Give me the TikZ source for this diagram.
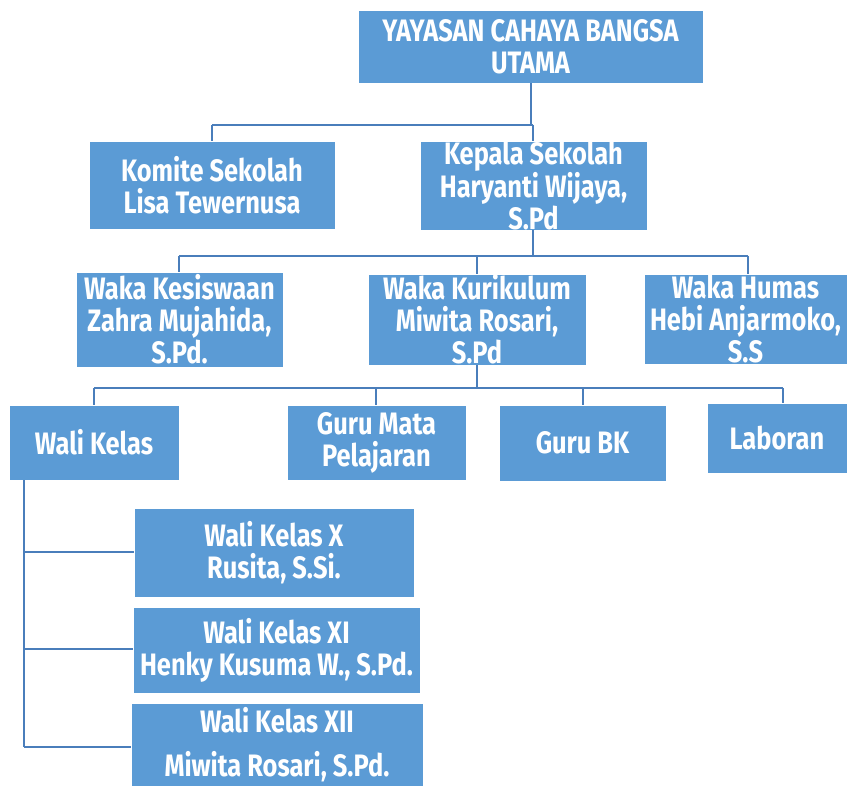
\documentclass[tikz,border=0pt]{standalone}
\usepackage{fontspec}
\setmainfont[FakeStretch=0.82]{Fira Sans}
\definecolor{boxfill}{HTML}{5B9BD5}
\definecolor{linecol}{HTML}{4A7EBB}
\begin{document}
\begin{tikzpicture}[x=1pt,y=-1pt,
  orgbox/.style={fill=boxfill,draw=white,line width=0.6pt,inner sep=0pt,text=white,align=center,
    font=\fontsize{31}{32}\selectfont\bfseries},
  conn/.style={draw=linecol,line width=2.6pt}]
\useasboundingbox (0,0) rectangle (847,786);
\newcommand{\obox}[6]{\node[orgbox,minimum width=#3-#2,minimum height=#5-#4] (#1) at ({(#2+#3)/2},{(#4+#5)/2}) {#6};}
\obox{yay}{358}{703}{10}{83}{YAYASAN CAHAYA BANGSA\\UTAMA}
\obox{kom}{89}{335}{141}{229}{Komite Sekolah\\Lisa Tewernusa}
\obox{kep}{420}{647}{141}{230}{Kepala Sekolah\\Haryanti Wijaya,\\S.Pd}
\obox{kes}{76}{283}{272}{367}{Waka Kesiswaan\\Zahra Mujahida,\\S.Pd.}
\obox{kur}{368}{586}{274}{365}{Waka Kurikulum\\Miwita Rosari,\\S.Pd}
\obox{hum}{644}{847}{274}{364}{Waka Humas\\Hebi Anjarmoko,\\S.S}
\obox{wal}{9}{179}{405}{480}{Wali Kelas}
\obox{gmp}{287}{466}{405}{480}{Guru Mata\\Pelajaran}
\obox{gbk}{499}{666}{405}{481}{Guru BK}
\obox{lab}{707}{847}{403}{473}{Laboran}
\obox{wx}{134}{414}{508}{597}{Wali Kelas X\\Rusita, S.Si.}
\obox{wxi}{133}{420}{607}{693}{Wali Kelas XI\\Henky Kusuma W., S.Pd.}
\obox{wxii}{131}{423}{703}{786}{Wali Kelas XII\\[12pt]Miwita Rosari, S.Pd.}
% connectors
\coordinate (b1) at (531,125);
\draw[conn] (yay.south -| b1) -- (b1);
\draw[conn] (212,125) -- (533,125);
\draw[conn] (212,125) -- (kom.north -| 212,0);
\draw[conn] (533,125) -- (kep.north -| 533,0);
\coordinate (b2) at (533,256);
\draw[conn] (kep.south -| b2) -- (b2);
\draw[conn] (179,256) -- (748,256);
\draw[conn] (179,256) -- (kes.north -| 179,0);
\draw[conn] (477,256) -- (kur.north -| 477,0);
\draw[conn] (748,256) -- (hum.north -| 748,0);
\coordinate (b3) at (477,388);
\draw[conn] (kur.south -| b3) -- (b3);
\draw[conn] (94,388) -- (783,388);
\draw[conn] (94,388) -- (wal.north -| 94,0);
\draw[conn] (376,388) -- (gmp.north -| 376,0);
\draw[conn] (583,388) -- (gbk.north -| 583,0);
\draw[conn] (783,388) -- (lab.north -| 783,0);
\coordinate (v) at (24,747);
\draw[conn] (wal.south -| v) -- (v);
\draw[conn] (24,552) -- (wx.west |- 0,552);
\draw[conn] (24,649) -- (wxi.west |- 0,649);
\draw[conn] (v) -- (wxii.west |- v);
\end{tikzpicture}
\end{document}
